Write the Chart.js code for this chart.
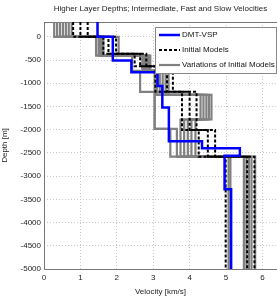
<!DOCTYPE html>
<html>
<head>
<meta charset="utf-8">
<script src="https://cdn.jsdelivr.net/npm/chart.js@4.4.0/dist/chart.umd.min.js"></script>
<style>
  html, body { margin: 0; padding: 0; background: #fff; }
  #wrap { width: 277px; height: 297px; }
</style>
</head>
<body>
<div id="wrap"><canvas id="profile" width="277" height="297"></canvas></div>
<script>
// Axis ticks
const velocityTicks = [0, 1, 2, 3, 4, 5, 6];
const depthTicks = [0, -500, -1000, -1500, -2000, -2500, -3000, -3500, -4000, -4500, -5000];

// DMT-VSP profile: layer boundaries (m) and velocity in each layer (km/s)
const dmtDepths = [320, 0, -510, -760, -1060, -1520, -2250, -2400, -2560, -3280, -5000];
const dmtVelocity = [1.47, 1.89, 2.40, 3.12, 3.25, 3.43, 4.34, 5.38, 4.96, 5.14];

// Initial models (slow, intermediate, fast) share the layer boundaries
const initialDepths = [320, 0, -366, -632, -1180, -2004, -2580, -5000];
const slowModel = [0.80, 1.63, 2.49, 3.06, 3.79, 4.25, 4.99];
const intermediateModel = [1.00, 1.77, 2.64, 3.38, 4.00, 4.50, 5.58];
const fastModel = [1.20, 1.98, 2.81, 3.54, 4.19, 4.70, 5.78];

// Variations of initial models
const variationDepthsA = [320, 0, -403, -733, -1185, -1980, -2580, -5000];
const variationDepthsB = [320, 0, -403, -733, -1250, -1780, -2580, -5000];
const variation1 = [0.28, 1.43, 2.42, 2.64, 3.04, 3.47, 5.07];
const variation2 = [0.36, 1.50, 2.70, 3.04, 3.04, 3.65, 5.12];
const variation3 = [0.44, 1.54, 2.75, 3.10, 4.30, 3.75, 5.49];
const variation4 = [0.52, 1.57, 2.79, 3.18, 4.38, 3.85, 5.56];
const variation5 = [0.60, 1.60, 2.84, 3.26, 4.46, 3.95, 5.63];
const variation6 = [0.68, 1.63, 2.88, 3.34, 4.53, 4.05, 5.70];
const variation7 = [0.76, 2.05, 2.92, 3.42, 4.60, 4.16, 5.80];

// turn layer boundaries + velocities into step-line points
function stepPoints(depths, vels) {
    const pts = [];
    vels.forEach((v, i) => {
        pts.push({ x: v, y: depths[i] });
        pts.push({ x: v, y: depths[i + 1] });
    });
    return pts;
}

const GRAY = '#808080';
const FONT = "'Liberation Sans', Arial, sans-serif";

function lineSet(label, points, color, width, dash) {
    return {
        label: label,
        data: points,
        showLine: true,
        borderColor: color,
        backgroundColor: color,
        borderWidth: width,
        borderDash: dash || [],
        pointRadius: 0,
        fill: false,
        tension: 0
    };
}

const datasets = [
    lineSet('DMT-VSP', stepPoints(dmtDepths, dmtVelocity), '#0000ff', 2.5),
    lineSet('Initial Models', stepPoints(initialDepths, slowModel), '#000', 2, [3, 2]),
    lineSet('Initial Models', stepPoints(initialDepths, intermediateModel), '#000', 2, [3, 2]),
    lineSet('Initial Models', stepPoints(initialDepths, fastModel), '#000', 2, [3, 2]),
    lineSet('Variations of Initial Models', stepPoints(variationDepthsA, variation1), GRAY, 2.2),
    lineSet('Variations of Initial Models', stepPoints(variationDepthsA, variation2), GRAY, 2.2),
    lineSet('Variations of Initial Models', stepPoints(variationDepthsB, variation3), GRAY, 2.2),
    lineSet('Variations of Initial Models', stepPoints(variationDepthsB, variation4), GRAY, 2.2),
    lineSet('Variations of Initial Models', stepPoints(variationDepthsB, variation5), GRAY, 2.2),
    lineSet('Variations of Initial Models', stepPoints(variationDepthsB, variation6), GRAY, 2.2),
    lineSet('Variations of Initial Models', stepPoints(variationDepthsB, variation7), GRAY, 2.2)
];

// legend box drawn inside the plot, top right
const boxLegend = {
    id: 'boxLegend',
    afterDraw(chart) {
        const ctx = chart.ctx;
        const seen = [];
        chart.data.datasets.forEach(ds => {
            if (!seen.find(s => s.label === ds.label)) seen.push(ds);
        });
        const x0 = 155, y0 = 27, w = 121, h = 46;
        ctx.save();
        ctx.fillStyle = '#fff';
        ctx.fillRect(x0, y0, w, h);
        ctx.strokeStyle = '#888';
        ctx.lineWidth = 1;
        ctx.strokeRect(x0 + 0.5, y0 + 0.5, w, h);
        ctx.font = '8px ' + FONT;
        ctx.textBaseline = 'middle';
        seen.forEach((ds, i) => {
            const y = y0 + 8 + i * 15;
            ctx.beginPath();
            ctx.strokeStyle = ds.borderColor;
            ctx.lineWidth = ds.borderWidth;
            ctx.setLineDash(ds.borderDash);
            ctx.moveTo(159, y);
            ctx.lineTo(180, y);
            ctx.stroke();
            ctx.setLineDash([]);
            ctx.fillStyle = '#111';
            ctx.fillText(ds.label, 182, y);
        });
        ctx.restore();
    }
};

// solid axis box drawn over dotted grid
const frame = {
    id: 'frame',
    beforeDatasetsDraw(chart) {
        const a = chart.chartArea, ctx = chart.ctx;
        ctx.save();
        ctx.strokeStyle = '#777';
        ctx.lineWidth = 1;
        ctx.setLineDash([]);
        ctx.beginPath();
        ctx.moveTo(a.left + 0.5, a.top + 0.5);
        ctx.lineTo(a.right, a.top + 0.5);
        ctx.moveTo(a.left + 0.5, a.top);
        ctx.lineTo(a.left + 0.5, a.bottom + 0.5);
        ctx.lineTo(a.right, a.bottom + 0.5);
        ctx.stroke();
        ctx.restore();
    }
};

new Chart(document.getElementById('profile'), {
    type: 'scatter',
    data: { datasets: datasets },
    plugins: [frame, boxLegend],
    options: {
        responsive: false,
        animation: false,
        layout: { padding: 0 },
        plugins: {
            legend: { display: false },
            tooltip: { enabled: false },
            title: {
                display: true,
                fullSize: false,
                text: 'Higher Layer Depths; Intermediate, Fast and Slow Velocities',
                color: '#222',
                font: { family: FONT, size: 8, weight: 'normal' },
                padding: { top: 4, bottom: 8.4 }
            }
        },
        scales: {
            x: {
                type: 'linear',
                min: 0,
                max: 6.4,
                afterBuildTicks: s => { s.ticks = velocityTicks.map(v => ({ value: v })); },
                afterFit: s => { s.height = 28; },
                grid: { color: '#c8c8c8', drawTicks: false },
                border: { display: false, dash: [1, 2] },
                ticks: { color: '#222', padding: 4, font: { family: FONT, size: 8 },
                         callback: v => String(v) },
                title: {
                    display: true, text: 'Velocity [km/s]', color: '#222',
                    font: { family: FONT, size: 8 }, padding: { top: 1, bottom: 0 }
                }
            },
            y: {
                type: 'linear',
                min: -5000,
                max: 320,
                afterBuildTicks: s => { s.ticks = depthTicks.map(v => ({ value: v })); },
                afterFit: s => { s.width = 44; },
                grid: { color: '#c8c8c8', drawTicks: false },
                border: { display: false, dash: [1, 2] },
                ticks: { color: '#222', padding: 3, font: { family: FONT, size: 8 },
                         callback: v => String(v) },
                title: {
                    display: true, text: 'Depth [m]', color: '#222',
                    font: { family: FONT, size: 8 }, padding: { top: 0, bottom: 0 }
                }
            }
        }
    }
});
</script>
</body>
</html>
